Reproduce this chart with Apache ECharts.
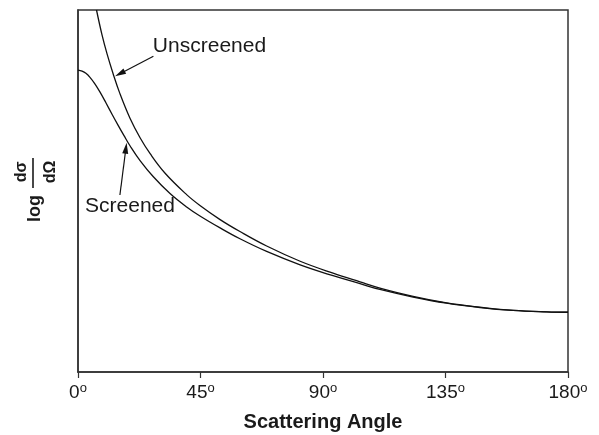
<!DOCTYPE html>
<html>
<head>
<meta charset="utf-8">
<script src="https://cdn.jsdelivr.net/npm/echarts@6/dist/echarts.min.js"></script>
<style>
  html, body { margin: 0; padding: 0; background: #fff; }
  #chart { width: 599px; height: 435px; }
</style>
</head>
<body>
<div id="chart"></div>
<script>
// Scattering angle in degrees, log cross-section in arbitrary units (0–100 across the frame)
const angleTicks = [0, 45, 90, 135, 180];

const unscreened = [
  [6.8, 100.0], [8.8, 93.2], [10.7, 87.8], [12.9, 82.4], [15.4, 76.9], [19.1, 70.1],
  [22.8, 64.7], [26.5, 60.3], [32.0, 54.9], [39.9, 49.0], [44.8, 46.0], [52.2, 42.1],
  [59.5, 38.8], [69.3, 34.8], [81.6, 30.6], [93.7, 27.3], [103.6, 24.9], [110.9, 23.2],
  [123.1, 20.9], [135.4, 19.1], [147.7, 17.9], [159.8, 17.0], [172.2, 16.6], [180.0, 16.5]
];

const screened = [
  [0.0, 83.4], [1.5, 83.1], [2.9, 82.5], [4.4, 81.4], [6.2, 79.6], [8.1, 77.3],
  [10.3, 74.3], [12.5, 71.2], [14.7, 68.2], [16.9, 65.3], [19.1, 62.5], [22.8, 58.4],
  [27.6, 54.0], [33.8, 49.3], [39.9, 45.6], [44.8, 43.1], [52.2, 39.8], [59.5, 36.8],
  [69.3, 33.3], [81.6, 29.6], [93.7, 26.6], [103.6, 24.4], [110.9, 22.8], [123.1, 20.7],
  [135.4, 19.0], [147.7, 17.8], [159.8, 17.0], [172.2, 16.6], [180.0, 16.5]
];

// Curve labels: [text, angle, value] for the text anchor (left edge, vertical middle)
const curveLabels = [
  ['Unscreened', 27.5, 90.0],
  ['Screened', 2.6, 45.7]
];
// Pointer arrows: tail [angle, value] -> head [angle, value]
const pointers = [
  [[27.7, 87.2], [15.4, 82.4]],
  [[15.4, 48.9], [17.6, 61.8]]
];

const FONT = '"Liberation Sans", Arial, Helvetica, sans-serif';
const INK = '#111';
const FRAME = '#333';

const chart = echarts.init(document.getElementById('chart'), null, { renderer: 'canvas' });

const curveStyle = { color: INK, width: 1.3 };

chart.setOption({
  animation: false,
  grid: {
    left: 78, right: 31, top: 10, bottom: 63,
    outerBoundsMode: 'none', containLabel: false,
    show: true, borderColor: FRAME, borderWidth: 1.5, backgroundColor: 'transparent'
  },
  xAxis: {
    type: 'value', min: angleTicks[0], max: angleTicks[angleTicks.length - 1], interval: 45,
    name: 'Scattering Angle', nameLocation: 'middle', nameGap: 40,
    nameTextStyle: { fontFamily: FONT, fontWeight: 'bold', fontSize: 20, color: '#1a1a1a' },
    axisLine: { show: true, lineStyle: { color: FRAME, width: 1.5 } },
    axisTick: { show: true, length: 6, lineStyle: { color: FRAME, width: 1.2 } },
    splitLine: { show: false },
    axisLabel: {
      margin: 10,
      formatter: v => '{n|' + v + '}{d|o}',
      rich: {
        n: { fontFamily: FONT, fontSize: 19, lineHeight: 22, color: '#1a1a1a' },
        d: { fontFamily: FONT, fontSize: 13, lineHeight: 15, verticalAlign: 'top', color: '#1a1a1a' }
      }
    }
  },
  yAxis: {
    type: 'value', min: 0, max: 100,
    axisLine: { show: true, lineStyle: { color: FRAME, width: 1.5 } },
    axisTick: { show: false }, axisLabel: { show: false }, splitLine: { show: false }
  },
  series: [
    {
      name: 'Unscreened', type: 'line', data: unscreened, showSymbol: false,
      smooth: 0.4, clip: true, lineStyle: curveStyle, silent: true,
      markLine: {
        silent: true, animation: false,
        symbol: ['none', 'triangle'], symbolSize: [6, 11],
        label: { show: false },
        lineStyle: { color: INK, width: 1.2, type: 'solid' },
        data: pointers.map(p => [{ coord: p[0] }, { coord: p[1] }])
      }
    },
    {
      name: 'Screened', type: 'line', data: screened, showSymbol: false,
      smooth: 0.4, clip: true, lineStyle: curveStyle, silent: true
    }
  ]
});

// Curve names placed in data space, and the rotated log(dσ/dΩ) axis title
const labelGraphics = curveLabels.map(([txt, a, v]) => {
  const p = chart.convertToPixel({ gridIndex: 0 }, [a, v]);
  return {
    type: 'text', x: p[0], y: p[1], silent: true,
    style: { text: txt, fontFamily: FONT, fontSize: 21, fill: '#1a1a1a', align: 'left', verticalAlign: 'middle' }
  };
});

const yTitle = {
  type: 'group', x: 33, y: 195, rotation: Math.PI / 2, silent: true,
  children: [
    { type: 'text', x: 0, y: 1.8,
      style: { text: 'log', fontFamily: FONT, fontWeight: 'bold', fontSize: 18, fill: '#1a1a1a', align: 'right', verticalAlign: 'middle' } },
    { type: 'text', x: 23, y: -11.5,
      style: { text: 'dσ', fontFamily: FONT, fontWeight: 'bold', fontSize: 16, fill: '#1a1a1a', align: 'center', verticalAlign: 'middle' } },
    { type: 'line', shape: { x1: 7, y1: 0, x2: 37, y2: 0 },
      style: { stroke: '#1a1a1a', lineWidth: 1.6 } },
    { type: 'text', x: 23, y: 17.5,
      style: { text: 'dΩ', fontFamily: FONT, fontWeight: 'bold', fontSize: 16, fill: '#1a1a1a', align: 'center', verticalAlign: 'middle' } }
  ]
};

chart.setOption({ graphic: labelGraphics.concat([yTitle]) });
</script>
</body>
</html>
